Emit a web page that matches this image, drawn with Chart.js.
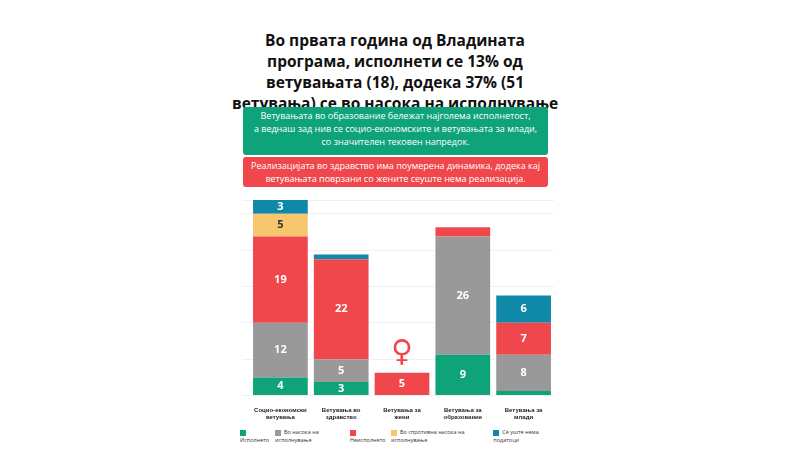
<!DOCTYPE html><html><head><meta charset="utf-8">
<script src="https://cdn.jsdelivr.net/npm/chart.js@4"></script>
<style>
body{margin:0;width:800px;height:450px;background:#fff;font-family:"Open Sans",sans-serif;position:relative;overflow:hidden}
#t{position:absolute;left:225px;width:340px;top:30px;text-align:center;font-weight:bold;font-size:15.5px;line-height:21px;color:#111}
.b{position:absolute;left:243px;width:305px;color:#fff;text-align:center;font-size:9px;line-height:13px;border-radius:3px}
#g{top:107px;height:46px;background:#0fa37a;padding-top:2px}
#r{top:157px;height:28px;background:#f0474d;padding-top:2px}
#c{position:absolute;left:242px;top:192px;width:312px;height:232px}
#lg{position:absolute;top:428px;left:240px;width:320px;display:flex;justify-content:space-between;font-size:5.5px;color:#333}
#lg span i{display:inline-block;width:6px;height:6px;margin-right:3px;vertical-align:middle}
</style></head><body>
<div id="t">Во првата година од Владината програма, исполнети се 13% од ветувањата (18), додека 37% (51 ветувања) се во насока на исполнување</div>
<div class="b" id="g">Ветувањата во образование бележат најголема исполнетост,<br>а веднаш зад нив се социо-економските и ветувањата за млади,<br>со значителен тековен напредок.</div>
<div class="b" id="r">Реализацијата во здравство има поумерена динамика, додека кај<br>ветувањата поврзани со жените сеуште нема реализација.</div>
<div id="c"><canvas id="cv"></canvas></div>
<div id="lg"></div>
<script>
const categories=[["Социо-економски","ветувања"],["Ветувања во","здравство"],["Ветувања за","жени"],["Ветувања за","образование"],["Ветувања за","млади"]];
const seriesNames=["Исполнето","Во насока на исполнување","Неисполнето","Во спротивна насока на исполнување","Сè уште нема податоци"];
const fulfilled=[4,3,0,9,1];
const inProgress=[12,5,0,26,8];
const unfulfilled=[19,22,5,2,7];
const opposite=[5,0,0,0,0];
const noData=[3,1,0,0,6];
const colors=["#0fa37a","#999999","#f0474d","#f7c66f","#1089a8"];
const vals=[fulfilled,inProgress,unfulfilled,opposite,noData];
document.getElementById("lg").innerHTML=seriesNames.map((n,i)=>`<span><i style="background:${colors[i]}"></i>${n}</span>`).join("");
const labelsPlugin={id:"lbl",afterDatasetsDraw(ch){const c=ch.ctx;c.save();c.font="bold 11px 'Open Sans'";c.textAlign="center";c.textBaseline="middle";
ch.data.datasets.forEach((d,i)=>{ch.getDatasetMeta(i).data.forEach((b,j)=>{const v=d.data[j];if(v>=3){c.fillStyle=i==3?"#333":"#fff";c.fillText(v,b.x,(b.y+b.base)/2);}});});
const m=ch.getDatasetMeta(2).data[2];c.fillStyle="#f0474d";c.font="bold 30px 'DejaVu Sans'";c.fillText("♀",m.x,m.y-20);c.restore();}};
new Chart(document.getElementById("cv"),{type:"bar",data:{labels:categories,datasets:vals.map((v,i)=>({label:seriesNames[i],data:v,backgroundColor:colors[i],borderSkipped:false,borderRadius:0,categoryPercentage:0.9,barPercentage:1}))},
options:{responsive:true,maintainAspectRatio:false,animation:false,layout:{padding:{top:8}},
plugins:{legend:{display:false},tooltip:{enabled:false}},
scales:{x:{stacked:true,grid:{display:false},border:{display:false},ticks:{font:{size:6,weight:"bold"},color:"#222"}},
y:{stacked:true,max:43,display:true,ticks:{display:false,stepSize:8},grid:{color:"#f0f0f0"},border:{display:false}}}},plugins:[labelsPlugin]});
</script></body></html>
